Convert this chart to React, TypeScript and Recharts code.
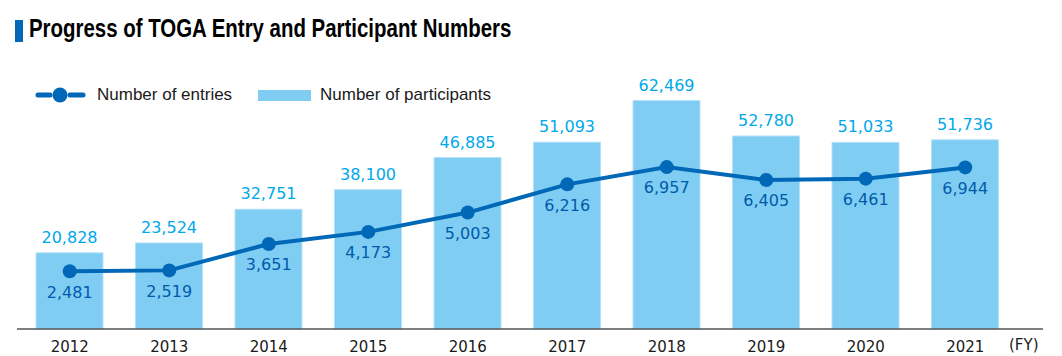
import { ComposedChart, Bar, Line, XAxis, YAxis, LabelList } from "recharts";

const years = ["2012", "2013", "2014", "2015", "2016", "2017", "2018", "2019", "2020", "2021"];
const participants = [20828, 23524, 32751, 38100, 46885, 51093, 62469, 52780, 51033, 51736];
const entries = [2481, 2519, 3651, 4173, 5003, 6216, 6957, 6405, 6461, 6944];

const BAR = "#80cdf3";
const LINE = "#0068b7";
const BAR_LABEL = "#00a8ea";
const LINE_LABEL = "#005bab";

const rows = years.map((y, i) => ({ year: y, participants: participants[i], entries: entries[i] }));

const fmt = (v: any) => Number(v).toLocaleString("en-US");

export default function App() {
  return (
    <div style={{ position: "relative", width: 1062, height: 356, background: "#fff" }}>
      <style>{"body{margin:0}"}</style>

      {/* title */}
      <div style={{ position: "absolute", left: 15, top: 20, width: 8, height: 22, background: "#0068b7" }} />
      <div
        style={{
          position: "absolute",
          left: 29,
          top: 14,
          fontFamily: "'Liberation Sans', Arial, sans-serif",
          fontWeight: 700,
          fontSize: 25,
          color: "#000",
          whiteSpace: "nowrap",
          transform: "scaleX(0.817)",
          transformOrigin: "left top",
        }}
      >
        Progress of TOGA Entry and Participant Numbers
      </div>

      {/* legend */}
      <svg style={{ position: "absolute", left: 0, top: 80 }} width={320} height={30}>
        <line x1={38} y1={15} x2={50} y2={15} stroke={LINE} strokeWidth={5} strokeLinecap="round" />
        <line x1={70} y1={15} x2={83} y2={15} stroke={LINE} strokeWidth={5} strokeLinecap="round" />
        <circle cx={60} cy={15} r={7.5} fill={LINE} />
        <rect x={258} y={10} width={53} height={11} fill={BAR} />
      </svg>
      <div style={legendText(97)}>Number of entries</div>
      <div style={legendText(320)}>Number of participants</div>

      <ComposedChart
        width={1062}
        height={356}
        data={rows}
        margin={{ top: 73, right: 19, bottom: 5, left: 17 }}
      >
        <XAxis
          dataKey="year"
          xAxisId={0}
          padding={{ left: 3, right: 28 }}
          axisLine={{ stroke: "#555", strokeWidth: 1.5 }}
          tickLine={false}
          height={22}
          tick={{ fontFamily: "'DejaVu Sans', Verdana, sans-serif", fontSize: 15, fill: "#1a1a1a" }}
          tickMargin={6}
          interval={0}
        />
        <YAxis yAxisId="left" hide domain={[0, 70000]} />
        <YAxis yAxisId="right" hide orientation="right" domain={[0, 11000]} />
        <Bar
          yAxisId="left"
          dataKey="participants"
          fill={BAR}
          stroke="#b5e1f7"
          strokeWidth={1}
          barSize={67}
          isAnimationActive={false}
        >
          <LabelList
            dataKey="participants"
            position="top"
            offset={10}
            formatter={fmt}
            style={{ fontFamily: "'DejaVu Sans', Verdana, sans-serif", fontSize: 16, fill: BAR_LABEL }}
          />
        </Bar>
        <Line
          yAxisId="right"
          dataKey="entries"
          stroke={LINE}
          strokeWidth={4}
          dot={{ r: 7, fill: LINE, stroke: LINE, strokeWidth: 0 }}
          activeDot={false}
          isAnimationActive={false}
        >
          <LabelList
            dataKey="entries"
            position="bottom"
            offset={15}
            formatter={fmt}
            style={{ fontFamily: "'DejaVu Sans', Verdana, sans-serif", fontSize: 16, fill: LINE_LABEL }}
          />
        </Line>
      </ComposedChart>

      <div
        style={{
          position: "absolute",
          left: 1009,
          top: 336,
          fontFamily: "'DejaVu Sans', Verdana, sans-serif",
          fontSize: 15,
          color: "#1a1a1a",
        }}
      >
        (FY)
      </div>
    </div>
  );
}

function legendText(left: number): React.CSSProperties {
  return {
    position: "absolute",
    left,
    top: 85,
    fontFamily: "'Liberation Sans', Arial, sans-serif",
    fontSize: 17,
    color: "#1a1a1a",
    whiteSpace: "nowrap",
  };
}
